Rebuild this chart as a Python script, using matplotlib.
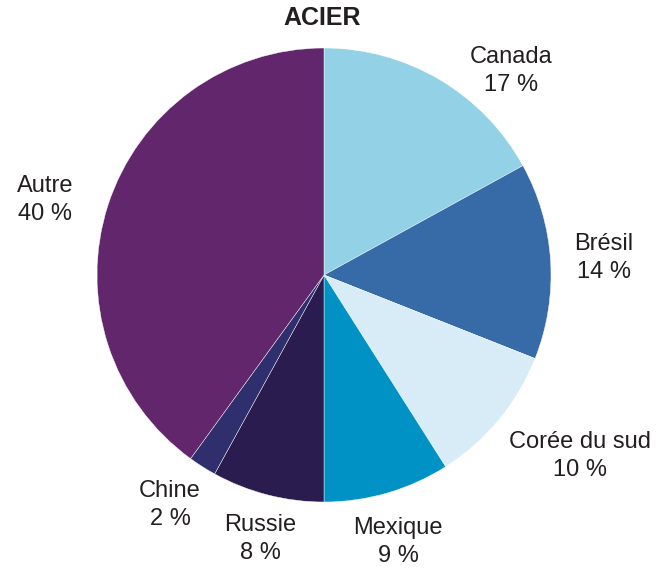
import matplotlib
matplotlib.use("Agg")
import matplotlib.pyplot as plt
import numpy as np

# Steel import shares by country
countries = ["Canada", "Brésil", "Corée du sud", "Mexique", "Russie", "Chine", "Autre"]
shares = [17, 14, 10, 9, 8, 2, 40]
colors = ["#93D1E6", "#366BA8", "#D8ECF7", "#0092C5", "#2B1C4F", "#2F2F6E", "#61266B"]

# label centres in pixels (x, y from top)
label_px = [(511, 71), (604, 258), (580, 456), (398, 542), (260, 539), (170, 505), (45, 200)]

plt.rcParams['font.family'] = ['Liberation Sans', 'DejaVu Sans']

W, H = 672, 573
cx, cy, R = 324, 275, 227

fig = plt.figure(figsize=(W/100., H/100.), dpi=100)
ax = fig.add_axes([0, 0, 1, 1])
ax.pie(shares, colors=colors, startangle=90, counterclock=False,
	radius=1, wedgeprops=dict(linewidth=0.3, edgecolor="white"))
ax.set_xlim(-cx/float(R), (W-cx)/float(R))
ax.set_ylim(-(H-cy)/float(R), cy/float(R))
ax.set_aspect("equal")
ax.axis("off")

for name, val, (px, py) in zip(countries, shares, label_px):
	ax.text((px-cx)/float(R), (cy-py)/float(R), "%s\n%d %%" % (name, val),
		ha="center", va="center", fontsize=17, color="#231F20",
		linespacing=1.4)

fig.text(322/float(W), 1-18/float(H), "ACIER", ha="center", va="center",
	fontsize=18, fontweight="bold", color="#231F20")

fig.savefig("out.png", dpi=100)
